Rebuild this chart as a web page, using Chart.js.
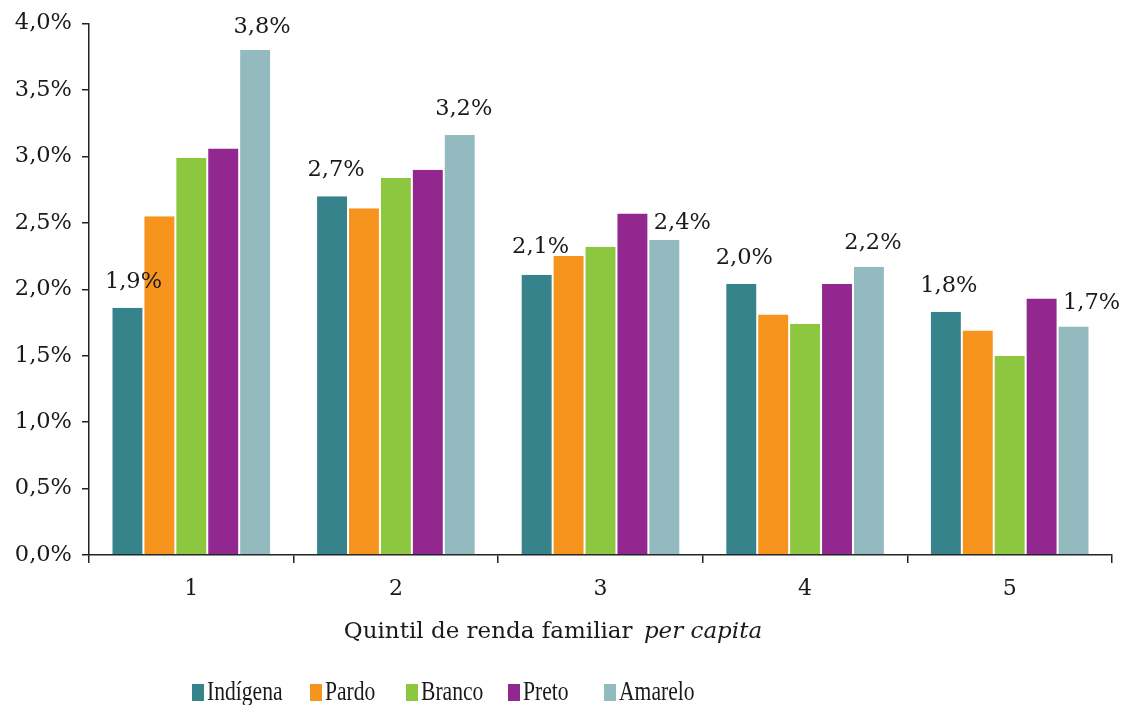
<!DOCTYPE html>
<html>
<head>
<meta charset="utf-8">
<script src="https://cdn.jsdelivr.net/npm/chart.js@4.4.1/dist/chart.umd.min.js"></script>
<style>
  html,body{margin:0;padding:0;background:#fff}
  #wrap{width:1122px;height:705px;position:relative}
</style>
</head>
<body>
<div id="wrap"><canvas id="chart" width="1122" height="705"></canvas></div>
<script>
const quintis = ["1","2","3","4","5"];
const seriesNames = ["Indígena","Pardo","Branco","Preto","Amarelo"];
const indigena = [1.86, 2.70, 2.11, 2.04, 1.83];
const pardo    = [2.55, 2.61, 2.25, 1.81, 1.69];
const branco   = [2.99, 2.84, 2.32, 1.74, 1.50];
const preto    = [3.06, 2.90, 2.57, 2.04, 1.93];
const amarelo  = [3.80, 3.16, 2.37, 2.17, 1.72];
const colors = ["#36838c","#f7941e","#8dc63f","#92278f","#93babf"];
const yTicks = [0,0.5,1,1.5,2,2.5,3,3.5,4];

const SERIF = "'DejaVu Serif', serif";
const TEXT = "#1a1a1a";

// label placement (offset from bar centre / top), only Indígena and Amarelo are labelled
const labelDx = {0:[6,4,4,3,3], 4:[7,4,18,4,18]};
const labelDy = {0:[26,26,27,26,26], 4:[23,26,17,24,23]};

function fmt(v){ return v.toFixed(1).replace(".", ",") + "%"; }

const valueLabels = {
  id: "valueLabels",
  afterDatasetsDraw(chart){
    const ctx = chart.ctx;
    ctx.save();
    ctx.font = "22.5px " + SERIF;
    ctx.fillStyle = TEXT;
    ctx.textAlign = "center";
    ctx.textBaseline = "middle";
    [0,4].forEach(di => {
      const meta = chart.getDatasetMeta(di);
      meta.data.forEach((bar, i) => {
        const v = chart.data.datasets[di].data[i];
        ctx.fillText(fmt(v), bar.x + labelDx[di][i], bar.y - labelDy[di][i]);
      });
    });
    ctx.restore();
  }
};

const titleAndLegend = {
  id: "titleAndLegend",
  afterDraw(chart){
    const ctx = chart.ctx;
    ctx.save();
    ctx.fillStyle = TEXT;
    ctx.textBaseline = "middle";
    // axis title with italic "per capita"
    const a = "Quintil de renda familiar ";
    const b = "per capita";
    ctx.font = "23px " + SERIF;
    const wa = ctx.measureText(a).width;
    ctx.font = "italic 23px " + SERIF;
    const wb = ctx.measureText(b).width;
    let x = 553 - (wa + wb + 4) / 2;
    ctx.font = "23px " + SERIF;
    ctx.textAlign = "left";
    ctx.fillText(a, x, 632);
    ctx.font = "italic 23px " + SERIF;
    ctx.fillText(b, x + wa + 4, 632);

    // legend (condensed serif)
    const legX = [192, 310, 406, 508, 604];
    seriesNames.forEach((n, i) => {
      ctx.fillStyle = colors[i];
      ctx.fillRect(legX[i], 684, 12, 17);
      ctx.save();
      ctx.translate(legX[i] + 15, 693);
      ctx.scale(0.8, 1);
      ctx.font = "27px 'Liberation Serif', serif";
      ctx.fillStyle = TEXT;
      ctx.fillText(n, 0, 0);
      ctx.restore();
    });
    ctx.restore();
  }
};

const series = [indigena, pardo, branco, preto, amarelo];

new Chart(document.getElementById("chart"), {
  type: "bar",
  data: {
    labels: quintis,
    datasets: series.map((d, i) => ({
      label: seriesNames[i],
      data: d,
      backgroundColor: colors[i],
      borderColor: "rgba(255,255,255,0.35)",
      borderWidth: {left:1, right:1, top:0, bottom:0},
      borderSkipped: false,
      categoryPercentage: 0.78,
      barPercentage: 1
    }))
  },
  options: {
    responsive: false,
    animation: false,
    layout: { padding: { top: 23, right: 10, left: 0, bottom: 0 } },
    plugins: {
      legend: { display: false },
      tooltip: { enabled: false }
    },
    scales: {
      x: {
        afterFit(scale){ scale.height = 150; },
        grid: { offset: true, drawOnChartArea: false, drawTicks: true, tickLength: 8, color: "#222", lineWidth: 1.5 },
        border: { color: "#222", width: 1.5 },
        ticks: { color: TEXT, font: { family: SERIF, size: 22 }, padding: 13 }
      },
      y: {
        min: 0, max: 4,
        afterFit(scale){ scale.width = 89; },
        afterBuildTicks(scale){ scale.ticks = yTicks.map(v => ({value: v})); },
        grid: { drawOnChartArea: false, drawTicks: true, tickLength: 7, color: "#222", lineWidth: 1.5 },
        border: { color: "#222", width: 1.5 },
        ticks: { color: TEXT, font: { family: SERIF, size: 22.5 }, padding: 10, callback: v => fmt(v) }
      }
    }
  },
  plugins: [valueLabels, titleAndLegend]
});
</script>
</body>
</html>
